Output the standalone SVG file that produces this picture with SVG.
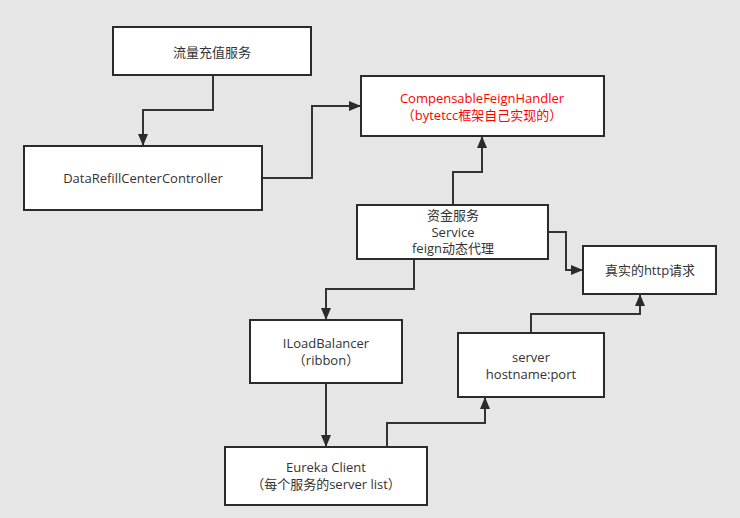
<svg xmlns="http://www.w3.org/2000/svg" width="740" height="518" viewBox="0 0 740 518">
<style>
.box{fill:#fff;stroke:#2b2b2b;stroke-width:2}
.t{font-family:"Open Sans","Noto Sans CJK SC",sans-serif;font-size:13px;fill:#333;text-anchor:middle}
.r{fill:#ff0000}
.c{fill:none;stroke:#333;stroke-width:2}
</style>
<defs>
<marker id="ah" markerWidth="12" markerHeight="10" refX="11" refY="5" orient="auto" markerUnits="userSpaceOnUse">
<path d="M0,0 L12,5 L0,10 Z" fill="#2b2b2b"/>
</marker>
</defs>
<rect width="740" height="518" fill="#e6e6e6"/>
<g id="connectors">
<path class="c" d="M213,75 V110 H143 V145" marker-end="url(#ah)"/>
<path class="c" d="M262,178 H312 V106 H360" marker-end="url(#ah)"/>
<path class="c" d="M453,205 V172 H482 V137" marker-end="url(#ah)"/>
<path class="c" d="M548,232 H566 V270 H582" marker-end="url(#ah)"/>
<path class="c" d="M414,259 V289 H326 V319" marker-end="url(#ah)"/>
<path class="c" d="M326,383 V446" marker-end="url(#ah)"/>
<path class="c" d="M387,447 V423 H485 V398" marker-end="url(#ah)"/>
<path class="c" d="M531,333 V314 H640 V295" marker-end="url(#ah)"/>
</g>
<g id="n1"><rect class="box" x="113" y="27" width="198" height="48"/><text class="t" x="212" y="57">流量充值服务</text></g>
<g id="n2"><rect class="box" x="24" y="146" width="238" height="64"/><text class="t" x="143" y="183">DataRefillCenterController</text></g>
<g id="n3"><rect class="box" x="361" y="76" width="243" height="60"/><text class="t r" x="482" y="103">CompensableFeignHandler</text><text class="t r" x="482" y="120">（bytetcc框架自己实现的）</text></g>
<g id="n4"><rect class="box" x="357" y="205" width="191" height="54"/><text class="t" x="453" y="220">资金服务</text><text class="t" x="453" y="237">Service</text><text class="t" x="453" y="253">feign动态代理</text></g>
<g id="n5"><rect class="box" x="583" y="246" width="133" height="48"/><text class="t" x="650" y="275">真实的http请求</text></g>
<g id="n6"><rect class="box" x="250" y="320" width="152" height="63"/><text class="t" x="326" y="348">ILoadBalancer</text><text class="t" x="326" y="365">（ribbon）</text></g>
<g id="n7"><rect class="box" x="458" y="333" width="146" height="64"/><text class="t" x="531" y="362">server</text><text class="t" x="531" y="379">hostname:port</text></g>
<g id="n8"><rect class="box" x="225" y="447" width="202" height="58"/><text class="t" x="326" y="472">Eureka Client</text><text class="t" x="326" y="489">（每个服务的server list）</text></g>
</svg>
